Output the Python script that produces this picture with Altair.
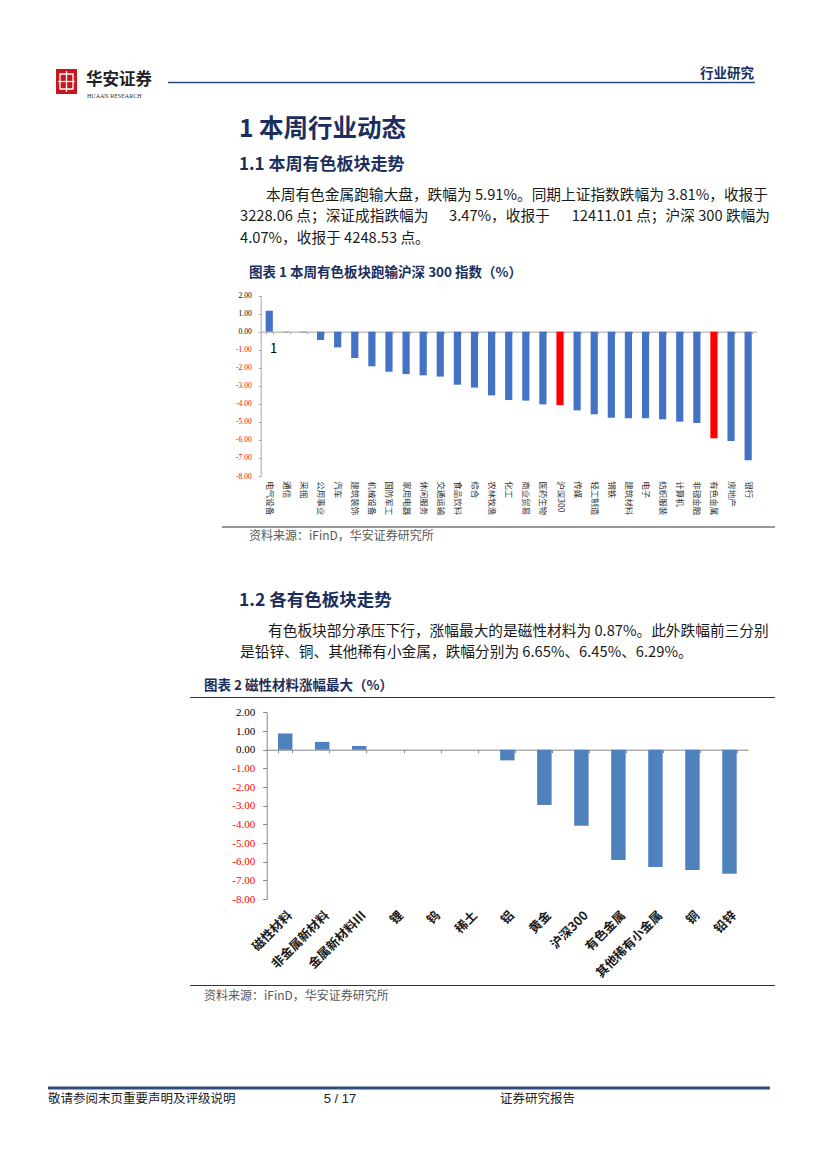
import altair as alt
import pandas as pd

# ---------------- data ----------------
ind_names = ["电气设备", "通信", "采掘", "公用事业", "汽车", "建筑装饰", "机械设备", "国防军工",
             "家用电器", "休闲服务", "交通运输", "食品饮料", "综合", "农林牧渔", "化工", "商业贸易",
             "医药生物", "沪深300", "传媒", "轻工制造", "钢铁", "建筑材料", "电子", "纺织服装",
             "计算机", "非银金融", "有色金属", "房地产", "银行"]
ind_values = [1.16, -0.02, -0.03, -0.46, -0.87, -1.46, -1.92, -2.22, -2.35, -2.42, -2.49, -2.94,
              -3.10, -3.53, -3.79, -3.82, -4.03, -4.07, -4.36, -4.58, -4.77, -4.80, -4.80, -4.86,
              -4.99, -5.06, -5.91, -6.06, -7.13]
ind_highlight = ["沪深300", "有色金属"]

sub_names = ["磁性材料", "非金属新材料", "金属新材料Ⅲ", "锂", "钨", "稀土", "铝", "黄金",
             "沪深300", "有色金属", "其他稀有小金属", "铜", "铅锌"]
sub_values = [0.87, 0.42, 0.20, 0.0, 0.0, 0.0, -0.57, -2.96, -4.07, -5.91, -6.29, -6.45, -6.65]

y_ticks = [-8, -7, -6, -5, -4, -3, -2, -1, 0, 1, 2]
y_domain = [-8, 2]

# ---------------- layout helpers ----------------
W, H = 811, 1153
M = 8  # page margin
CJK = "Noto Sans CJK SC"
SERIF = "Liberation Serif"
NAVY = "#1B2F5E"
ONE = alt.Data(values=[{"k": 0}])


def txt(s, x, y, size, color="#1a1a1a", weight="normal", align="left", font=CJK):
    return alt.Chart(ONE).mark_text(text=s, fontSize=size, color=color, fontWeight=weight,
                                    align=align, baseline="middle", font=font).encode(
        x=alt.value(x - M), y=alt.value(y - M))


def hline(x1, x2, y, color, w):
    return alt.Chart(ONE).mark_rule(color=color, strokeWidth=w).encode(
        x=alt.value(x1 - M), x2=alt.value(x2 - M), y=alt.value(y - M))


neg_red = {"condition": {"test": "datum.value < 0", "value": "#FF0000"}, "value": "#000000"}
lab_expr = "replace(format(datum.value, '.2f'), '\u2212', '-')"

# ---------------- chart 1 ----------------
df1 = pd.DataFrame({"cat": ind_names, "val": ind_values})
df1["kind"] = ["h" if c in ind_highlight else "n" for c in ind_names]

c1_left, c1_right = 260.7, 756.7
c1_zero, c1_top, c1_bot = 331.7, 295.6, 476.0

x1 = alt.X("cat:N", sort=ind_names,
           scale=alt.Scale(range=[c1_left - M, c1_right - M], paddingInner=0.58, paddingOuter=0.29),
           axis=alt.Axis(title=None, orient="bottom", offset=(c1_zero - M) - H,
                         domainColor="#a6a6a6", tickColor="#a6a6a6", tickSize=2, tickBand="extent",
                         labelAngle=90, labelPadding=147, labelFont=CJK, labelFontSize=8.5,
                         labelColor="#333333", labelAlign="left", labelBaseline="middle",
                         labelOverlap=False))
y1 = alt.Y("val:Q", stack=None,
           scale=alt.Scale(domain=y_domain, range=[c1_bot - M, c1_top - M], nice=False, zero=False),
           axis=alt.Axis(title=None, orient="left", offset=-(c1_left - M), values=y_ticks,
                         labelExpr=lab_expr, labelColor=neg_red, labelFont=SERIF, labelFontSize=7.5,
                         tickSize=2.5, labelPadding=7, domainColor="#a6a6a6", tickColor="#a6a6a6",
                         grid=False))

bars1 = alt.Chart(df1).mark_bar().encode(
    x=x1, y=y1, y2=alt.datum(0),
    color=alt.Color("kind:N", scale=alt.Scale(domain=["n", "h"], range=["#4472C4", "#FF0000"]),
                    legend=None))
chart1 = alt.layer(bars1)

# ---------------- chart 2 ----------------
df2 = pd.DataFrame({"cat": sub_names, "val": sub_values})
c2_left, c2_right = 266.7, 748.0
c2_zero, c2_top, c2_bot = 749.7, 712.4, 899.0

x2 = alt.X("cat:N", sort=sub_names,
           scale=alt.Scale(range=[c2_left - M, c2_right - M], paddingInner=0.61, paddingOuter=0.305),
           axis=alt.Axis(title=None, orient="bottom", offset=(c2_zero - M) - H,
                         domainColor="#868686", tickColor="#868686", tickSize=3, tickBand="extent",
                         labelAngle=-45, labelPadding=156, labelFont=CJK, labelFontSize=12.5,
                         labelFontWeight="bold", labelColor="#1a1a1a", labelOverlap=False))
y2 = alt.Y("val:Q", stack=None,
           scale=alt.Scale(domain=y_domain, range=[c2_bot - M, c2_top - M], nice=False, zero=False),
           axis=alt.Axis(title=None, orient="left", offset=-(c2_left - M), values=y_ticks,
                         labelExpr=lab_expr, labelColor=neg_red, labelFont=SERIF, labelFontSize=11,
                         tickSize=4, labelPadding=8, domainColor="#868686", tickColor="#868686",
                         grid=False))
bars2 = alt.Chart(df2).mark_bar(color="#4F81BD").encode(x=x2, y=y2, y2=alt.datum(0))
chart2 = alt.layer(bars2)

# ---------------- page decoration & text ----------------
logo = alt.layer(
    alt.Chart(ONE).mark_rect(color="#C8161D").encode(
        x=alt.value(56 - M), x2=alt.value(77 - M), y=alt.value(69 - M), y2=alt.value(94 - M)),
    alt.Chart(ONE).mark_rect(filled=False, stroke="white", strokeWidth=1.3).encode(
        x=alt.value(60 - M), x2=alt.value(73 - M), y=alt.value(74 - M), y2=alt.value(89 - M)),
    alt.Chart(ONE).mark_rule(color="white", strokeWidth=1.3).encode(
        x=alt.value(66.5 - M), y=alt.value(71 - M), y2=alt.value(92 - M)),
    alt.Chart(ONE).mark_rule(color="white", strokeWidth=1.3).encode(
        x=alt.value(58 - M), x2=alt.value(75 - M), y=alt.value(81.5 - M)),
)

P = 14.7  # body text size
texts = [
    txt("华安证券", 86, 80, 16.5, "#222222", "bold"),
    txt("HUAAN RESEARCH", 87, 96, 6, "#333333", font=SERIF),
    txt("行业研究", 754, 74, 13.5, NAVY, "bold", align="right"),
    txt("1 本周行业动态", 239, 130, 24.5, NAVY, "bold"),
    txt("1.1 本周有色板块走势", 239, 165, 17, NAVY, "bold"),
    txt("本周有色金属跑输大盘，跌幅为 5.91%。同期上证指数跌幅为 3.81%，收报于", 266, 196, P),
    txt("3228.06 点；深证成指跌幅为", 240, 217, P),
    txt("3.47%，收报于", 449, 217, P),
    txt("12411.01 点；沪深 300 跌幅为", 770, 217, P, align="right"),
    txt("4.07%，收报于 4248.53 点。", 240, 239, P),
    txt("图表 1 本周有色板块跑输沪深 300 指数（%）", 249, 273, 13.5, NAVY, "bold"),
    txt("1", 270, 349, 13, "#000000"),
    txt("资料来源：iFinD，华安证券研究所", 249, 536, 12, "#595959"),
    txt("1.2 各有色板块走势", 239, 601, 17.5, NAVY, "bold"),
    txt("有色板块部分承压下行，涨幅最大的是磁性材料为 0.87%。此外跌幅前三分别", 268, 632, P),
    txt("是铅锌、铜、其他稀有小金属，跌幅分别为 6.65%、6.45%、6.29%。", 240, 653, P),
    txt("图表 2 磁性材料涨幅最大（%）", 204, 686, 13.5, NAVY, "bold"),
    txt("资料来源：iFinD，华安证券研究所", 204, 996, 12, "#595959"),
    txt("敬请参阅末页重要声明及评级说明", 48, 1099, 12.5, "#222222"),
    txt("5 / 17", 340, 1099, 13, "#222222", align="center", font="Liberation Sans"),
    txt("证券研究报告", 500, 1099, 12.5, "#222222"),
]

lines = [
    hline(168, 755, 82.5, "#2E4A7D", 1.5),
    hline(222, 775, 527, "#333333", 1.2),
    hline(190, 775, 697.5, "#333333", 1.2),
    hline(190, 775, 985.5, "#333333", 1.2),
    hline(48, 770, 1088, "#2F4E7E", 3),
]

page = alt.layer(chart1, chart2, logo, *lines, *texts).resolve_scale(
    x="independent", y="independent", color="independent"
).properties(
    width=W, height=H, padding=0, autosize=alt.AutoSizeParams(type="none")
).configure_view(stroke=None)

page.save("out.html", embed_options={"renderer": "svg", "actions": False})
